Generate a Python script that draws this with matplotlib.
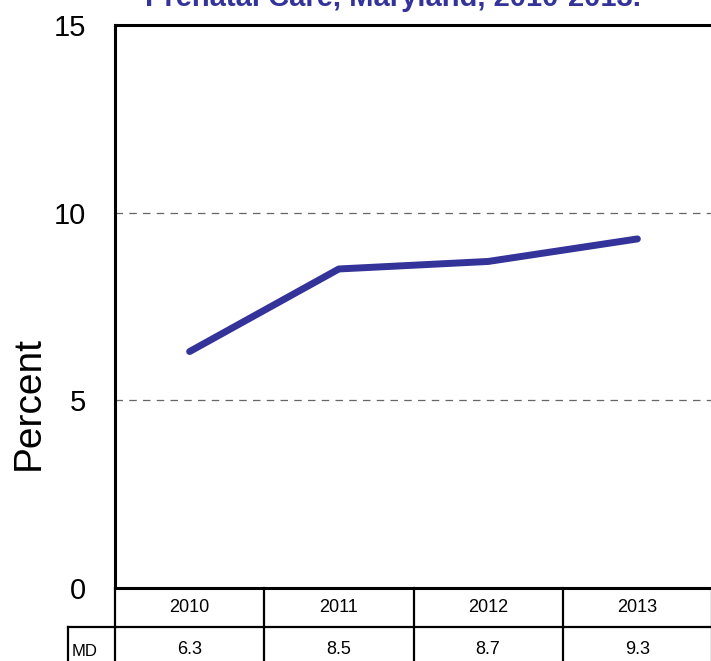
import matplotlib
matplotlib.use("Agg")
import matplotlib.pyplot as plt
from matplotlib.lines import Line2D

plt.rcParams['font.family'] = ['Liberation Sans', 'DejaVu Sans']

# data
years = ['2010', '2011', '2012', '2013']
md_values = [6.3, 8.5, 8.7, 9.3]
row_label = 'MD'
title = 'Prenatal Care, Maryland, 2010-2013.'

LINE_COLOR = '#333399'

fig = plt.figure(figsize=(7.11, 6.61), dpi=100)
W, H = 711, 661
ax = fig.add_axes([115 / W, 1 - 588 / H, 597 / W, 563 / H])

x = list(range(len(years)))
ax.plot(x, md_values, color=LINE_COLOR, lw=5, solid_capstyle='round', zorder=3)

ax.set_xlim(-0.5, len(years) - 0.5)
ax.set_ylim(0, 15)
ax.set_yticks([0, 5, 10, 15])
ax.set_yticklabels(['0', '5', '10', '15'], fontsize=21)
ax.tick_params(axis='y', length=0, pad=21)
ax.set_xticks([])
for yv in [5, 10]:
    ax.axhline(yv, color='#666666', lw=0.9, ls=(0, (6, 5)), zorder=1)

for side in ['left', 'top', 'bottom']:
    ax.spines[side].set_linewidth(2.2)
ax.spines['right'].set_visible(False)

ax.set_ylabel('Percent', fontsize=28, va='center')
ax.yaxis.set_label_coords(-(115 - 29) / 597, (588 - 403) / 563)

# table below the axes
row_h = 39 / 563
lbl_w = 47 / 597
n = len(years)
lw_t = 1.6
for i in range(n + 1):
    xi = i / n
    ax.add_line(Line2D([xi, xi], [0, -3 * row_h], transform=ax.transAxes,
                       color='black', lw=lw_t, clip_on=False))
ax.add_line(Line2D([-lbl_w, 1], [-row_h, -row_h], transform=ax.transAxes,
                   color='black', lw=lw_t, clip_on=False))
ax.add_line(Line2D([-lbl_w, -lbl_w], [-row_h, -3 * row_h], transform=ax.transAxes,
                   color='black', lw=lw_t, clip_on=False))
for i, (yr, v) in enumerate(zip(years, md_values)):
    xc = (i + 0.5) / n
    ax.text(xc, -(607 - 588) / 563, yr, transform=ax.transAxes, ha='center',
            va='center', fontsize=13)
    ax.text(xc, -(649 - 588) / 563, f'{v:.1f}', transform=ax.transAxes, ha='center',
            va='center', fontsize=13)
ax.text(-lbl_w + 0.006, -(652 - 588) / 563, row_label, transform=ax.transAxes,
        ha='left', va='center', fontsize=12)

fig.text(393 / W, 1 - 6 / H, title, ha='center', va='baseline', fontsize=21,
         fontweight='bold', color=LINE_COLOR)

fig.savefig('out.png', dpi=100)
